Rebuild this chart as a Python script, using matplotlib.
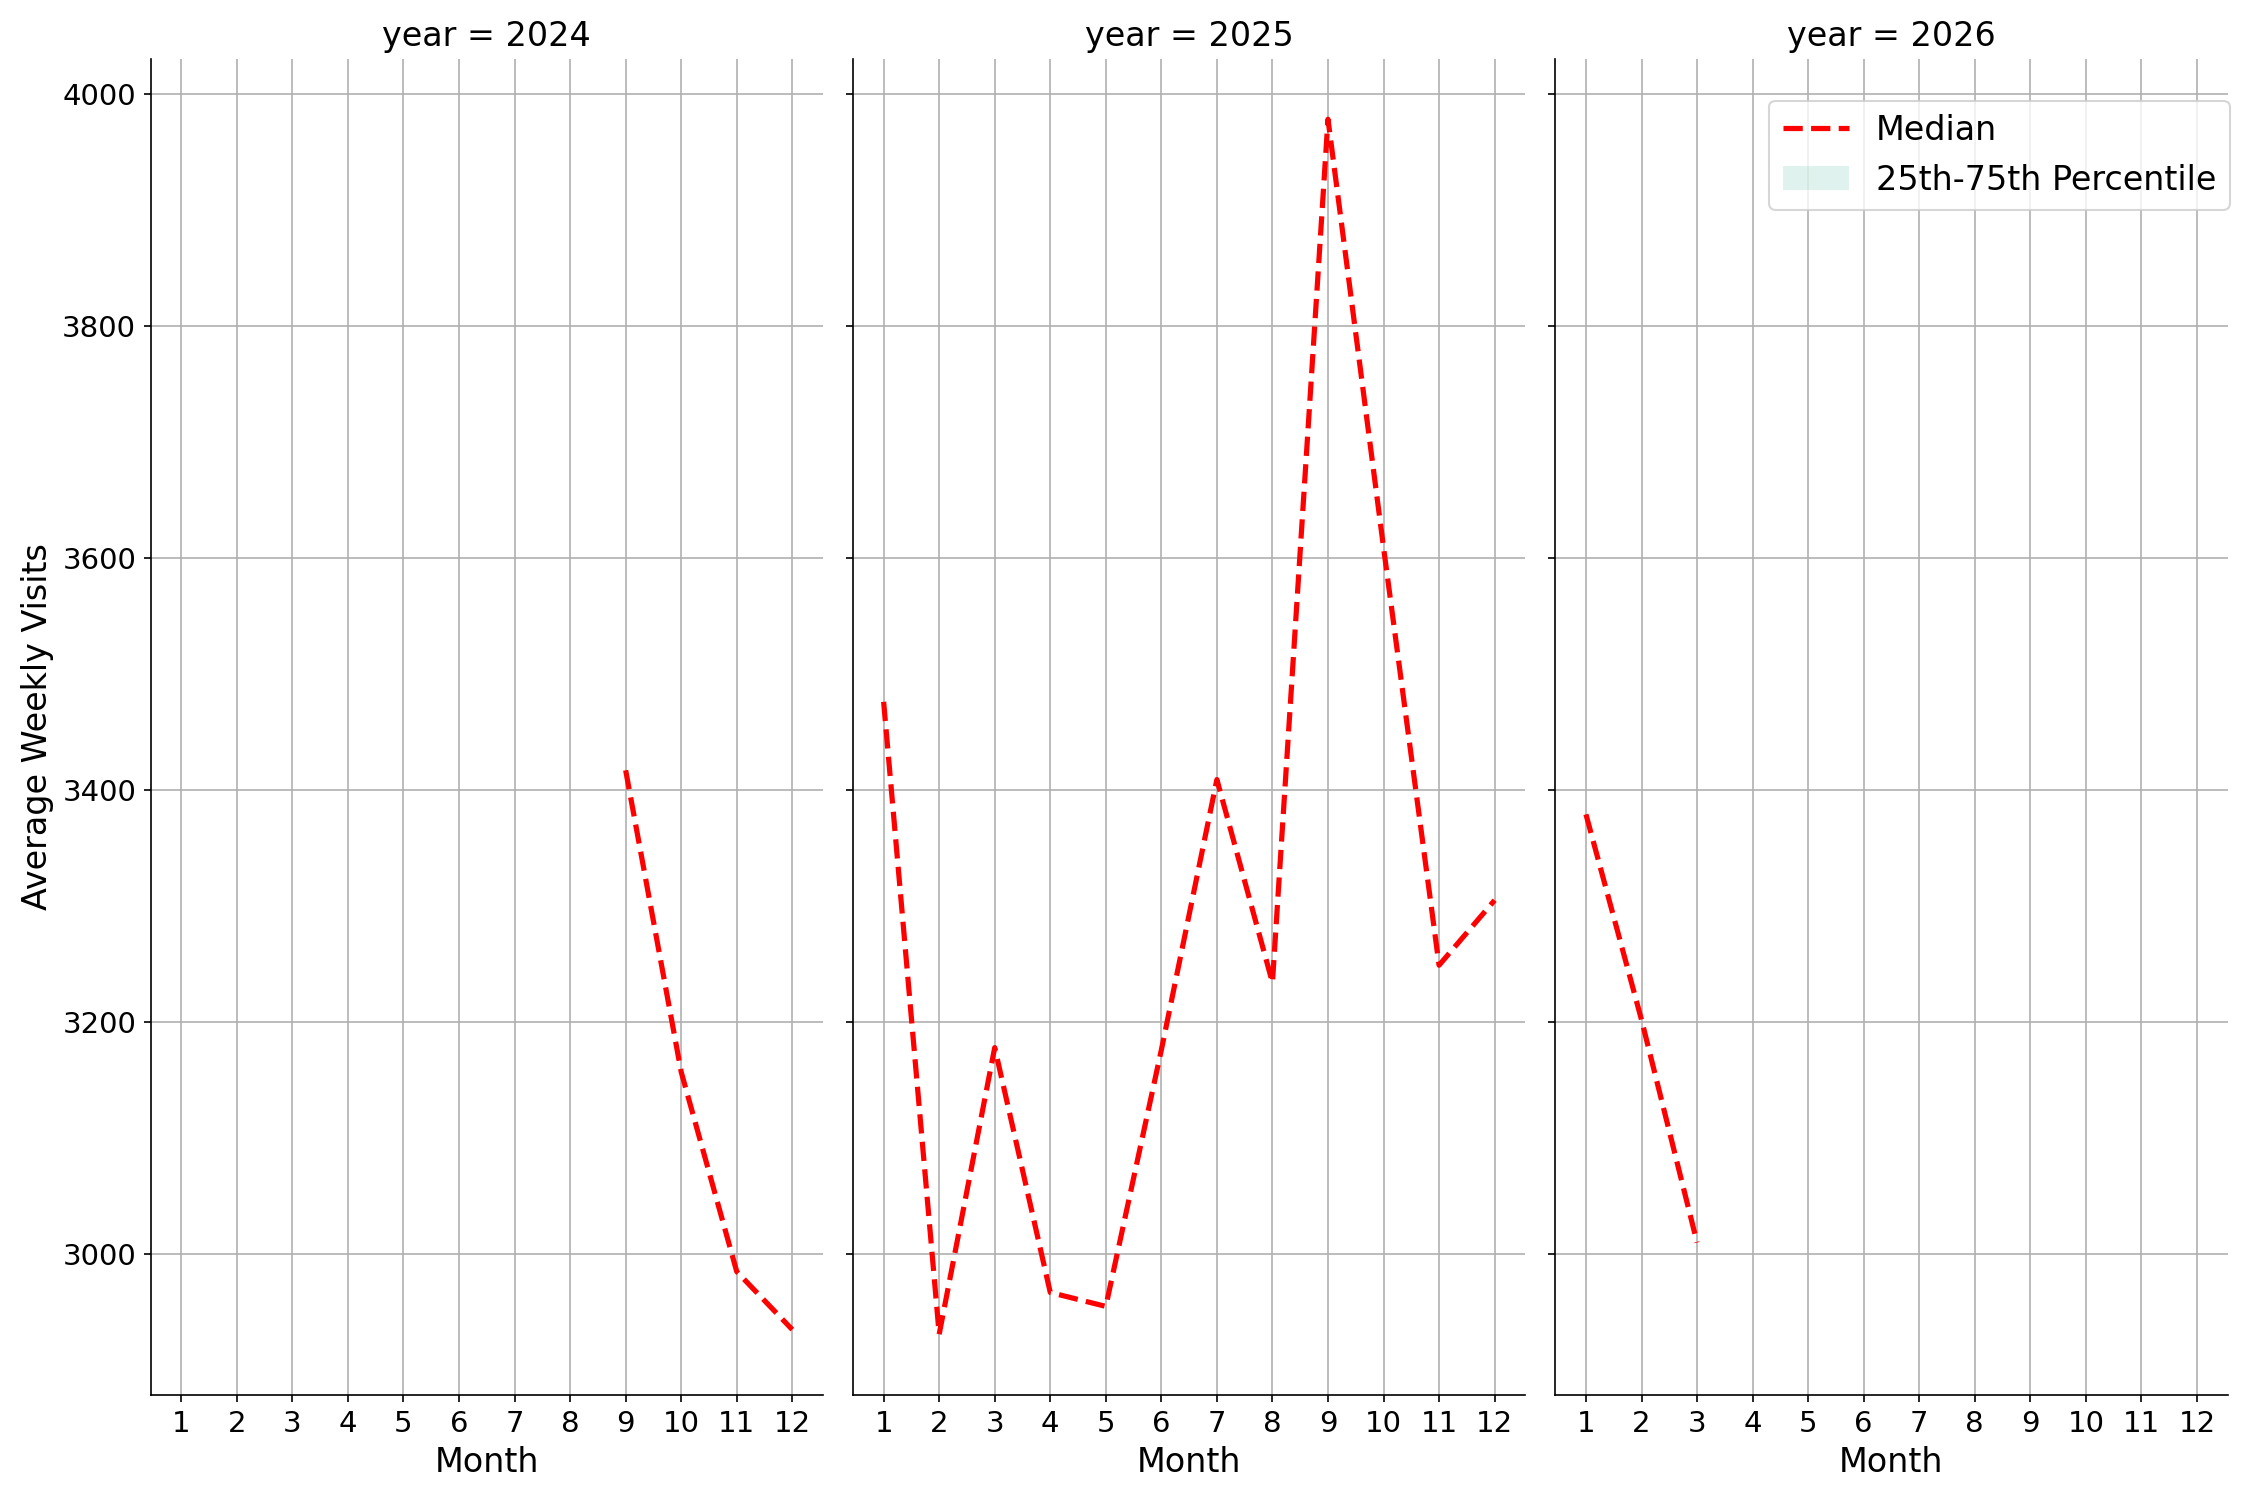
import matplotlib
matplotlib.use("Agg")
import matplotlib.pyplot as plt
import numpy as np

# median of weekly visits, per month, for each year
years = [2024, 2025, 2026]
months_2024 = [9, 10, 11, 12]
median_2024 = [3417, 3157, 2985, 2935]
months_2025 = [1, 2, 3, 4, 5, 6, 7, 8, 9, 10, 11, 12]
median_2025 = [3476, 2931, 3178, 2967, 2955, 3176, 3409, 3234, 3978, 3609, 3249, 3305]
months_2026 = [1, 2, 3]
median_2026 = [3379, 3202, 3010]

# one value per month, so the 25th-75th band collapses onto the median
p25_2024, p75_2024 = median_2024, median_2024
p25_2025, p75_2025 = median_2025, median_2025
p25_2026, p75_2026 = median_2026, median_2026

month_ticks = list(range(1, 13))

series = {
    2024: (months_2024, median_2024, p25_2024, p75_2024),
    2025: (months_2025, median_2025, p25_2025, p75_2025),
    2026: (months_2026, median_2026, p25_2026, p75_2026),
}

fig, axes = plt.subplots(1, 3, sharey=True, figsize=(15, 10), dpi=150)
fig.subplots_adjust(left=0.067, right=0.99, top=0.961, bottom=0.070, wspace=0.045)

for ax, year in zip(axes, years):
    m, med, q25, q75 = series[year]
    ax.fill_between(m, q25, q75, color="#66c2a5", alpha=0.2, linewidth=0,
                    label="25th-75th Percentile")
    ax.plot(m, med, color="red", linestyle="--", linewidth=2.5, label="Median")
    ax.set_title(f"year = {year}", fontsize=16)
    ax.set_xlabel("Month", fontsize=16)
    ax.set_xticks(month_ticks)
    ax.set_xlim(0.45, 12.55)
    ax.tick_params(labelsize=14)
    ax.grid(True, color="#b0b0b0", linewidth=0.8)
    ax.spines["top"].set_visible(False)
    ax.spines["right"].set_visible(False)

axes[0].set_ylabel("Average Weekly Visits", fontsize=16)

handles, labels = axes[2].get_legend_handles_labels()
fig.legend(handles[::-1], labels[::-1], loc="upper right", fontsize=16,
           bbox_to_anchor=(0.991, 0.933), borderaxespad=0)

fig.savefig("out.png", dpi=150)
